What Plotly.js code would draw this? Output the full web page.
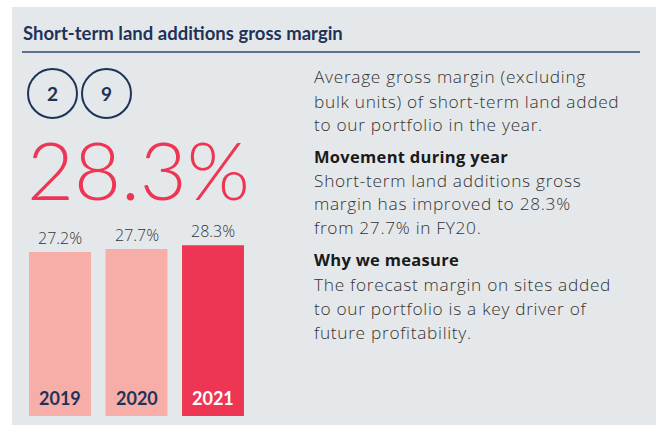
<!DOCTYPE html>
<html>
<head>
<meta charset="utf-8">
<script src="https://cdn.plot.ly/plotly-3.0.1.min.js"></script>
<style>html,body{margin:0;padding:0;background:#fff;}#chart{width:656px;height:425px;}</style>
</head>
<body>
<div id="chart"></div>
<script>
const years = ['2019', '2020', '2021'];
const margins = [27.2, 27.7, 28.3];
const barColors = ['#f7aea8', '#f7aea8', '#ee3553'];
const yearLabelColors = ['#1f3358', '#1f3358', '#ffffff'];
const headline = '28.3%';
const title = 'Short-term land additions gross margin';
const kpiNumbers = ['2', '9'];
const bodyLines = [
  {t: 'Average gross margin (excluding', b: false},
  {t: 'bulk units) of short-term land added', b: false},
  {t: 'to our portfolio in the year.', b: false},
  {t: 'Movement during year', b: true},
  {t: 'Short-term land additions gross', b: false},
  {t: 'margin has improved to 28.3%', b: false},
  {t: 'from 27.7% in FY20.', b: false},
  {t: 'Why we measure', b: true},
  {t: 'The forecast margin on sites added', b: false},
  {t: 'to our portfolio is a key driver of', b: false},
  {t: 'future profitability.', b: false}
];
const baselines = [83, 107, 131, 162, 186, 209, 233, 265, 290, 314, 338];

const W = 656, H = 425;
const px = x => x / W;
const py = y => (H - y) / H;
const FONT = 'Lato, "Open Sans", sans-serif';
const BODY = '"Open Sans", Lato, sans-serif';
const NAVY = '#1f3358';

const annotations = [];
annotations.push({xref:'paper', yref:'paper', x:px(21), y:py(33), xanchor:'left', yanchor:'middle',
  text:'<b>' + title + '</b>', showarrow:false, font:{family:FONT, size:18.5, color:NAVY}});
const circleCx = [52, 106];
kpiNumbers.forEach((n, i) => annotations.push({xref:'paper', yref:'paper', x:px(circleCx[i]), y:py(93),
  xanchor:'center', yanchor:'middle', text:'<b>' + n + '</b>', showarrow:false,
  font:{family:FONT, size:19, color:NAVY}}));
annotations.push({xref:'paper', yref:'paper', x:px(25), y:py(168), xanchor:'left', yanchor:'middle',
  text:headline, showarrow:false, font:{family:FONT, size:81, color:'#ee3553', weight:300}});
bodyLines.forEach((l, i) => annotations.push({xref:'paper', yref:'paper', x:px(312), y:py(baselines[i] - 6),
  xanchor:'left', yanchor:'middle',
  text: l.b ? '<span style="letter-spacing:0.3px"><b>' + l.t + '</b></span>'
            : '<span style="letter-spacing:0.7px">' + l.t + '</span>',
  showarrow:false,
  font:{family:BODY, size: l.b ? 16.5 : 17.3, color: l.b ? '#1a1a1a' : '#333333', weight: l.b ? 700 : 300}}));
years.forEach((yr, i) => {
  annotations.push({xref:'x', yref:'y', x:i, y:margins[i], yanchor:'bottom', xanchor:'center', yshift:1,
    text: margins[i].toFixed(1) + '%', showarrow:false, font:{family:BODY, size:16, color:'#333333', weight:300}});
  annotations.push({xref:'x', yref:'y', x:i, y:0, yanchor:'bottom', xanchor:'center', yshift:5,
    text:'<b>' + yr + '</b>', showarrow:false, font:{family:FONT, size:18, color:yearLabelColors[i]}});
});

const shapes = [
  {type:'rect', xref:'paper', yref:'paper', x0:px(12), x1:px(656), y0:py(425), y1:py(7),
   fillcolor:'#e5e8ea', line:{width:0}, layer:'below'},
  {type:'line', xref:'paper', yref:'paper', x0:px(22), x1:px(640), y0:py(52), y1:py(52),
   line:{color:'#5b6f8e', width:2}},
  {type:'circle', xref:'paper', yref:'paper', x0:px(28), x1:px(77), y0:py(118), y1:py(69),
   line:{color:NAVY, width:2}},
  {type:'circle', xref:'paper', yref:'paper', x0:px(82), x1:px(131), y0:py(118), y1:py(69),
   line:{color:NAVY, width:2}}
];

const trace = {type:'bar', x:years, y:margins, marker:{color:barColors, line:{width:0}},
  hoverinfo:'none', width:0.81};

const layout = {
  width:W, height:H, margin:{l:0, r:0, t:0, b:0},
  paper_bgcolor:'#ffffff', plot_bgcolor:'rgba(0,0,0,0)',
  showlegend:false,
  xaxis:{domain:[px(21.75), px(251.25)], range:[-0.5, 2.5], type:'category', visible:false, fixedrange:true},
  yaxis:{domain:[py(416), py(235.1)], range:[0, 30], visible:false, fixedrange:true},
  annotations: annotations, shapes: shapes
};
Plotly.newPlot('chart', [trace], layout, {displayModeBar:false, staticPlot:true});
</script>
</body>
</html>
